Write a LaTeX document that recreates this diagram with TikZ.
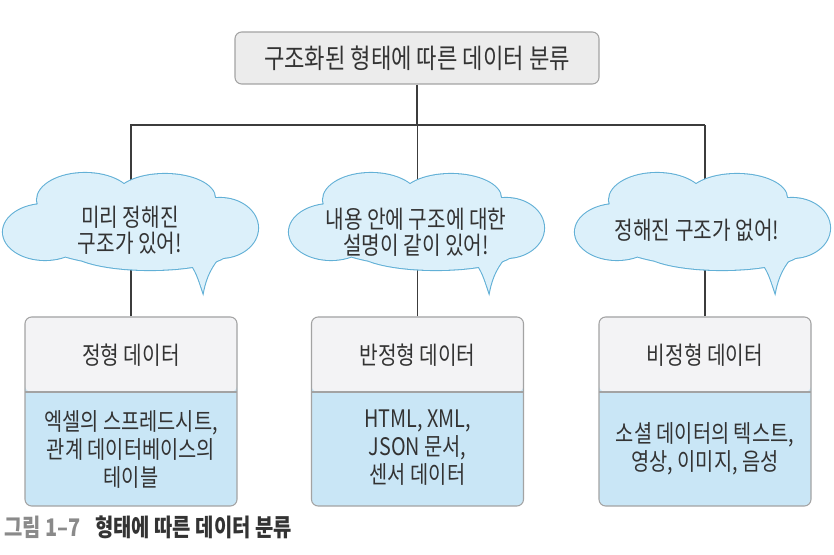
\documentclass[tikz,border=0pt]{standalone}
\usepackage{fontspec}
\newfontfamily\kr[FakeStretch=0.82]{Noto Sans CJK KR}
\usetikzlibrary{calc}
\definecolor{cloudfill}{HTML}{DCF0FA}
\definecolor{cloudline}{HTML}{62B0D6}
\definecolor{headgray}{HTML}{F3F3F5}
\definecolor{bodyblue}{HTML}{C9E6F6}
\definecolor{boxline}{HTML}{A3A3A3}
\definecolor{topfill}{HTML}{ECECEC}
\definecolor{linecol}{HTML}{3C3C3C}
\definecolor{txt}{HTML}{333333}
\definecolor{capgray}{HTML}{8A8A8A}
\newcommand\cloudparts{(130,225) ellipse [x radius=105, y radius=40]
 (45,232) ellipse [x radius=42, y radius=28]
 (85,200) ellipse [x radius=48, y radius=27]
 (165,198) ellipse [x radius=50, y radius=24]
 (220,228) ellipse [x radius=38, y radius=30]
 (150,250) ellipse [x radius=80, y radius=20]}
\newcommand\cloudtail{(190,262) .. controls (197,274) .. (203,292) .. controls (206,276) and (212,265) .. (222,254) -- cycle}
\newcommand\drawcloud[1]{\begin{scope}[shift={(#1,0)}]
\path[draw=cloudline, line width=1.6pt] \cloudparts;
\path[draw=cloudline, line width=1.6pt] \cloudtail;
\path[fill=cloudfill] \cloudparts;
\path[fill=cloudfill] \cloudtail;
\end{scope}}
\tikzset{
  conn/.style={draw=linecol, line width=0.9pt},
  topbox/.style={draw=boxline, fill=topfill, rounded corners=5pt, line width=0.8pt,
    minimum width=273pt, minimum height=39pt, text=txt,
    font=\kr\fontsize{20.3}{22}\selectfont},
  databox/.style={draw=boxline, fill=bodyblue, rounded corners=5pt, line width=0.8pt,
    minimum width=159pt, minimum height=141.75pt, inner sep=0pt,
    path picture={\fill[headgray] (path picture bounding box.north west) rectangle
      ([yshift=-56.25pt]path picture bounding box.north east);
      \draw[boxline, line width=0.8pt] ([yshift=-56.25pt]path picture bounding box.north west) --
      ([yshift=-56.25pt]path picture bounding box.north east);}},
  headtext/.style={text=txt, align=center, font=\kr\fontsize{18.5}{20}\selectfont},
  boxtext/.style={text=txt, align=center, font=\kr\fontsize{18.1}{21}\selectfont},
  cloudtext/.style={text=txt, align=center, font=\kr\fontsize{18.5}{19.8}\selectfont},
}
\begin{document}
\begin{tikzpicture}[x=0.75pt, y=-0.75pt]
\useasboundingbox (0,0) rectangle (834,555);
% nodes (boxes)
\node[topbox] (top) at (417,58) {구조화된 형태에 따른 데이터 분류};
\node[databox] (s1) at (131,411.5) {};
\node[databox] (s2) at (417.5,411.5) {};
\node[databox] (s3) at (705,411.5) {};
\coordinate (hl) at (130,125);
\coordinate (hr) at (705,125);
% connectors
\draw[conn] (hl) -- (hr);
\draw[conn] (top.south) -- (top.south |- hl);
\draw[conn] (s1.north) -- (s1.north |- hl);
\draw[conn] (s2.north) -- (s2.north |- hl);
\draw[conn] (s3.north) -- (s3.north |- hl);
% clouds
\drawcloud{0}
\drawcloud{286}
\drawcloud{572}
\node[cloudtext] (c1) at (130,230) {미리 정해진\\구조가 있어!};
\node[cloudtext] (c2) at (416,232) {내용 안에 구조에 대한\\설명이 같이 있어!};
\node[cloudtext] (c3) at (697,230) {정해진 구조가 없어!};
% box texts
\node[headtext] (h1) at (131,355) {정형 데이터};
\node[headtext] (h2) at (417.5,355) {반정형 데이터};
\node[headtext] (h3) at (705,355) {비정형 데이터};
\node[boxtext] (d1) at (131,449) {엑셀의 스프레드시트,\\관계 데이터베이스의\\테이블};
\node[boxtext] (d2) at (417.5,448) {HTML, XML,\\JSON 문서,\\센서 데이터};
\node[boxtext] (d3) at (705,449) {소셜 데이터의 텍스트,\\영상, 이미지, 음성};
% caption
\node[anchor=west, inner sep=0pt, font=\kr\bfseries\fontsize{18.2}{20}\selectfont] (cap) at (4,527)
  {\textcolor{capgray}{그림 1–7}\hspace{0.6em}\textcolor{txt}{형태에 따른 데이터 분류}};
\end{tikzpicture}
\end{document}
